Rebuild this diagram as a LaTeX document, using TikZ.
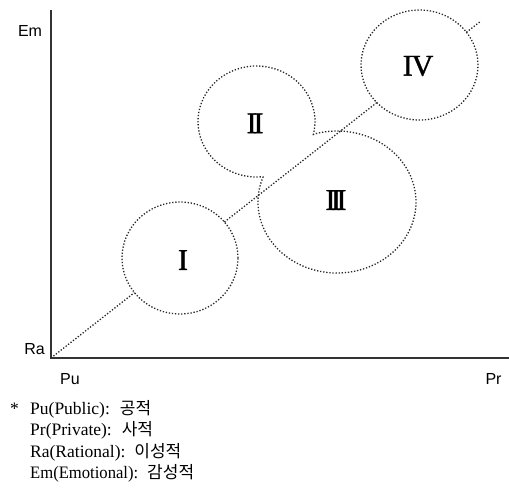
\documentclass[tikz,border=0pt]{standalone}
\usepackage{fontspec}
\setmainfont{Liberation Serif}
\newfontfamily\arsans{Liberation Sans}
\newfontfamily\kr{Noto Sans CJK KR}
\newfontfamily\numfont[FakeBold=1.2]{Liberation Serif}
\newfontfamily\narrowserif[FakeStretch=0.95]{Liberation Serif}
\usetikzlibrary{shapes.geometric,calc}
\newcommand\krtext[1]{{\kr\fontsize{17}{19}\selectfont #1}}
\begin{document}
\begin{tikzpicture}[x=1pt,y=-1pt,
  axisline/.style={draw=black!80, line width=1.3pt},
  dotline/.style={draw=black!85, line width=1.3pt, dash pattern=on 1.3pt off 1.8pt},
  axlabel/.style={font=\arsans\fontsize{16}{18}\selectfont, inner sep=0pt},
  numeral/.style={font=\numfont\fontsize{30}{32}\selectfont, inner sep=0pt},
  note/.style={font=\fontsize{17.5}{20}\selectfont, inner sep=0pt, anchor=base west}]
\useasboundingbox (0,0) rectangle (509,498);
% axes
\coordinate (O) at (51,358);
\coordinate (ytop) at (51,10);
\coordinate (xend) at (509,358);
\draw[axisline] (ytop) -- (O) -- (xend);
\node[axlabel] (em) at (30,30.5) {Em};
\node[axlabel] (ra) at (34.5,349.5) {Ra};
\node[axlabel] (pu) at (70,379) {Pu};
\node[axlabel] (pr) at (493.5,379) {Pr};
% regions
\node[ellipse, dotline, minimum width=116pt, minimum height=112pt, inner sep=0pt] (cI) at (180,258) {};
\node[ellipse, dotline, minimum width=117pt, minimum height=110pt, inner sep=0pt] (cIV) at (419.5,65) {};
\coordinate (c2) at (256.5,121.5);
\coordinate (c3) at (337,202);
\draw[dotline] ($(c2)+(14:58.5 and 55.5)$)
   arc[start angle=14, end angle=-276, x radius=58.5, y radius=55.5]
   -- ($(c3)+(200.6:79 and 71)$)
   arc[start angle=200.6, end angle=-108.4, x radius=79, y radius=71]
   -- cycle;
% diagonal
\coordinate (p1) at (134.4,292.6);
\coordinate (p2) at (224.4,222.0);
\coordinate (p3) at (376.9,102.5);
\coordinate (p4) at (466.4,32.3);
\coordinate (dend) at (481,21);
\draw[dotline] (O) -- (p1);
\draw[dotline] (p2) -- (p3);
\draw[dotline] (p4) -- (dend);
% numerals
\node[numeral] (nI) at (183,260) {I};
\node[numeral] (nII) at (255,123.3) {I\kern-3.2pt I};
\node[numeral] (nIII) at (336,200) {I\kern-4.5pt I\kern-4.5pt I};
\node[numeral] (nIV) at (418,66) {I\kern-1pt V};
% footnote
\node[note] (star) at (10,414) {*};
\node[note] (n1) at (30,414) {Pu(Public):\hspace{10pt}\krtext{공적}};
\node[note] (n2) at (30,435.5) {Pr(Private):\hspace{10pt}\krtext{사적}};
\node[note] (n3) at (30,457) {Ra(Rational):\hspace{9pt}\krtext{이성적}};
\node[note] (n4) at (30,478.5) {{\narrowserif Em(Emotional):}\hspace{9pt}\krtext{감성적}};
\end{tikzpicture}
\end{document}
